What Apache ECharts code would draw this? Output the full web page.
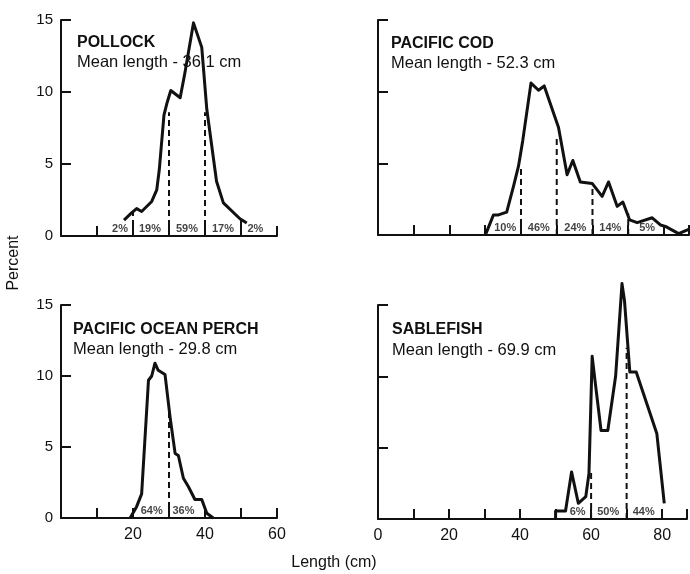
<!DOCTYPE html>
<html>
<head>
    <meta charset="utf-8">
    <title>Length frequency</title>
    <script src="https://cdn.jsdelivr.net/npm/echarts@6/dist/echarts.min.js"></script>
    <style>
        body { margin: 0; background: #fff; }
        #chart1 { width: 690px; height: 574px; }
    </style>
</head>
<body>
<div id="chart1"></div>
<script>
    // 各鱼种的体长分布
    var pollockLen = [17.5, 19.6, 21, 22.4, 25.2, 26.6, 27.3, 28.6, 29.4, 30.5, 33.1, 34.4, 36.8, 39.1, 40.5, 43.2, 45.1, 49.7, 51.6];
    var pollockPct = [1.1, 1.6, 1.9, 1.7, 2.4, 3.2, 4.6, 8.4, 9.2, 10.1, 9.6, 11.3, 14.8, 13.1, 8.8, 3.8, 2.3, 1.2, 0.9];
    var pollockSplit = [20, 30, 40, 50];
    var pollockSplitTop = [1.6, 8.6, 8.6, 1.2];
    var pollockShare = ['2%', '19%', '59%', '17%', '2%'];
    var pollockShareX = [16.4, 24.7, 35, 45, 54];

    var codLen = [30.2, 32.3, 33.7, 36, 37.9, 39.3, 40.5, 42.8, 44.9, 46.5, 50.5, 52.9, 54.5, 56.6, 59.9, 62.7, 64.5, 66.9, 68.5, 70.4, 72.5, 76.7, 79, 80.4, 84.1, 86.9];
    var codPct = [0.1, 1.4, 1.4, 1.6, 3.4, 4.8, 6.6, 10.6, 10.1, 10.4, 7.5, 4.2, 5.2, 3.7, 3.6, 2.7, 3.7, 2, 2.3, 1.05, 0.86, 1.2, 0.7, 0.6, 0.1, 0.4];
    var codSplit = [40, 50, 60, 70, 80];
    var codSplitTop = [4.7, 6.8, 3.4, 1.5, 0.6];
    var codShare = ['10%', '46%', '24%', '14%', '5%'];
    var codShareX = [35.6, 45, 55.2, 65, 75.3];

    var perchLen = [19.2, 21, 22.4, 24.3, 25.2, 26.1, 27, 28.9, 30.3, 31.7, 32.6, 34, 35.4, 37.2, 39.1, 40.5, 42.3];
    var perchPct = [0, 0.8, 1.7, 9.7, 10, 10.9, 10.4, 10.1, 7.1, 4.55, 4.4, 2.8, 2.2, 1.3, 1.3, 0.33, 0];
    var perchSplit = [30];
    var perchSplitTop = [7.5];
    var perchShare = ['64%', '36%'];
    var perchShareX = [25.2, 34];

    var sableLen = [50, 50, 52.8, 54.5, 56.4, 58.5, 59.4, 60.3, 61.1, 62.8, 64.7, 66.9, 68.7, 69.4, 70.9, 72.7, 78.5, 80.6];
    var sablePct = [0, 0.56, 0.56, 3.3, 1.1, 1.56, 3.2, 11.4, 9.7, 6.2, 6.2, 10, 16.5, 15.3, 10.3, 10.3, 6.0, 1.1];
    var sableSplit = [60, 70];
    var sableSplitTop = [3.3, 12];
    var sableShare = ['6%', '50%', '44%'];
    var sableShareX = [56.2, 64.8, 74.8];

    var panelNames = ['POLLOCK', 'PACIFIC COD', 'PACIFIC OCEAN PERCH', 'SABLEFISH'];
    var panelMeans = ['Mean length - 36.1 cm', 'Mean length - 52.3 cm', 'Mean length - 29.8 cm', 'Mean length - 69.9 cm'];
    var yTicks = [0, 5, 10, 15];

    var ink = '#111';
    var font = '"Liberation Sans", Arial, sans-serif';

    function zip(a, b) {
        return a.map(function (v, i) { return [v, b[i]]; });
    }

    function panelSeries(idx, len, pct, split, splitTop, share, shareX) {
        var list = [{
            type: 'line',
            xAxisIndex: idx,
            yAxisIndex: idx,
            data: zip(len, pct),
            symbol: 'none',
            clip: false,
            lineStyle: {color: ink, width: 3, join: 'round'},
            z: 3
        }];
        split.forEach(function (x, i) {
            list.push({
                type: 'line',
                xAxisIndex: idx,
                yAxisIndex: idx,
                data: [[x, 0], [x, splitTop[i]]],
                symbol: 'none',
                lineStyle: {color: ink, width: 2, type: [6, 4]},
                z: 2
            });
        });
        list.push({
            type: 'scatter',
            xAxisIndex: idx,
            yAxisIndex: idx,
            symbolSize: 0,
            data: share.map(function (s, i) { return {name: s, value: [shareX[i], 0.5]}; }),
            label: {
                show: true,
                position: 'inside',
                formatter: '{b}',
                color: ink,
                fontFamily: font,
                fontWeight: 'bold',
                fontSize: 11
            }
        });
        return list;
    }

    function xAxis(idx, max, labels) {
        return {
            type: 'value',
            gridIndex: idx,
            min: 0,
            max: max,
            interval: 10,
            splitLine: {show: false},
            axisLine: {lineStyle: {color: ink, width: 2}},
            axisTick: {inside: true, length: 10, lineStyle: {color: ink, width: 2}},
            axisLabel: {
                show: labels.length > 0,
                color: ink,
                fontFamily: font,
                fontSize: 16,
                margin: 9,
                showMaxLabel: true,
                formatter: function (v) { return labels.indexOf(v) >= 0 ? String(v) : ''; }
            }
        };
    }

    function yAxis(idx, labels) {
        return {
            type: 'value',
            gridIndex: idx,
            min: 0,
            max: 15,
            interval: 5,
            splitLine: {show: false},
            axisLine: {show: true, lineStyle: {color: ink, width: 2}},
            axisTick: {show: true, inside: true, length: 10, lineStyle: {color: ink, width: 2}},
            axisLabel: {
                show: labels,
                color: ink,
                fontFamily: font,
                fontSize: 15,
                margin: 8,
                formatter: function (v) { return yTicks.indexOf(v) >= 0 ? String(v) : ''; }
            }
        };
    }

    var titlePos = [[77, 43, 62], [391, 44, 63], [73, 330, 349], [392, 330, 350]];
    var graphic = [];
    titlePos.forEach(function (p, i) {
        graphic.push({type: 'text', x: p[0], y: p[1], style: {text: panelNames[i], font: 'bold 16px ' + font, fill: ink, textVerticalAlign: 'middle'}});
        graphic.push({type: 'text', x: p[0], y: p[2], style: {text: panelMeans[i], font: '16.5px ' + font, fill: ink, textVerticalAlign: 'middle'}});
    });
    graphic.push({type: 'text', x: 14, y: 263, rotation: Math.PI / 2,
        style: {text: 'Percent', font: '16px ' + font, fill: ink, textAlign: 'center', textVerticalAlign: 'middle'}});
    graphic.push({type: 'text', x: 334, y: 563,
        style: {text: 'Length (cm)', font: '16px ' + font, fill: ink, textAlign: 'center', textVerticalAlign: 'middle'}});

    var myChart1 = echarts.init(document.getElementById('chart1'));
    myChart1.setOption({
        animation: false,
        backgroundColor: '#fff',
        grid: [
            {left: 61, top: 20, width: 216, height: 216},
            {left: 378, top: 20, width: 311, height: 215},
            {left: 61, top: 305, width: 216, height: 213},
            {left: 378, top: 305, width: 311, height: 214}
        ],
        xAxis: [
            xAxis(0, 60, []),
            xAxis(1, 87, []),
            xAxis(2, 60, [20, 40, 60]),
            xAxis(3, 87, [0, 20, 40, 60, 80])
        ],
        yAxis: [yAxis(0, true), yAxis(1, false), yAxis(2, true), yAxis(3, false)],
        graphic: graphic,
        series: [].concat(
            panelSeries(0, pollockLen, pollockPct, pollockSplit, pollockSplitTop, pollockShare, pollockShareX),
            panelSeries(1, codLen, codPct, codSplit, codSplitTop, codShare, codShareX),
            panelSeries(2, perchLen, perchPct, perchSplit, perchSplitTop, perchShare, perchShareX),
            panelSeries(3, sableLen, sablePct, sableSplit, sableSplitTop, sableShare, sableShareX)
        )
    });
</script>
</body>
</html>
